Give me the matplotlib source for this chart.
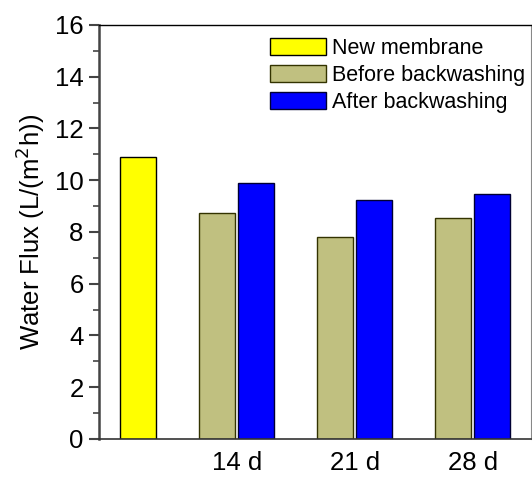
import numpy as np
import matplotlib
matplotlib.use("Agg")
import matplotlib.pyplot as plt
from matplotlib.ticker import MultipleLocator

plt.rcParams['font.family'] = ['Liberation Sans', 'DejaVu Sans']

# Water flux data (L/(m2 h))
groups = ["14 d", "21 d", "28 d"]
new_membrane = 10.9
before_backwash = [8.75, 7.8, 8.55]
after_backwash = [9.9, 9.22, 9.45]

bar_w = 0.305
offset = 0.166
x = np.arange(1, len(groups) + 1)

fig = plt.figure(figsize=(5.32, 4.78), dpi=100)
ax = fig.add_axes([0.186, 0.0816, 0.812, 0.8661])

ax.bar([offset], [new_membrane], width=bar_w, color='#FFFF00',
       edgecolor='black', linewidth=1.0, label='New membrane')
ax.bar(x - offset, before_backwash, width=bar_w, color='#C0C080',
       edgecolor='#333300', linewidth=1.0, label='Before backwashing')
ax.bar(x + offset, after_backwash, width=bar_w, color='#0000FF',
       edgecolor='#000033', linewidth=1.0, label='After backwashing')

ax.set_xlim(-0.169, 3.492)
ax.set_ylim(0, 16)
ax.set_xticks(x)
ax.set_xticklabels(groups, fontsize=18.5)
ax.tick_params(axis='x', length=0, pad=9)

ax.yaxis.set_major_locator(MultipleLocator(2))
ax.yaxis.set_minor_locator(MultipleLocator(1))
ax.tick_params(axis='y', which='major', length=7, width=1.5, color='#444444',
               labelsize=18.5, pad=4)
ax.tick_params(axis='y', which='minor', length=4, width=1.2, color='#444444')
ax.set_ylabel("Water Flux (L/(m$^2$h))", fontsize=18.5, labelpad=6)

ax.spines['left'].set_color('#444444')
ax.spines['left'].set_linewidth(1.8)
ax.spines['bottom'].set_color('#333333')
ax.spines['bottom'].set_linewidth(1.2)
ax.spines['top'].set_linewidth(1.0)
ax.spines['right'].set_color('#888888')
ax.spines['right'].set_linewidth(0.8)

ax.legend(loc='upper left', bbox_to_anchor=(270 / 532, 1 - 38 / 478),
          bbox_transform=fig.transFigure, frameon=False, fontsize=15.5,
          handlelength=2.6, handleheight=0.85, handletextpad=0.3,
          labelspacing=0.28, borderpad=0, borderaxespad=0)

fig.savefig("out.png", dpi=100)
